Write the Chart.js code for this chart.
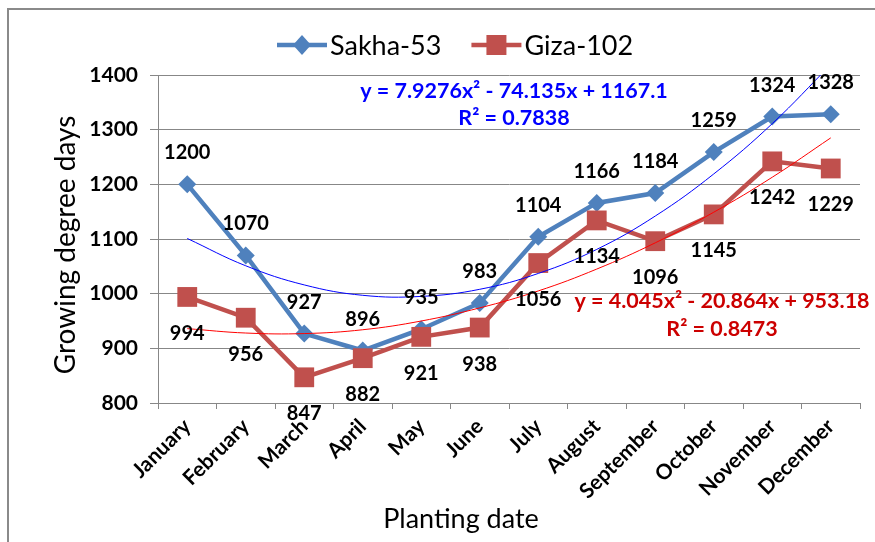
<!DOCTYPE html>
<html><head><meta charset="utf-8">
<script src="https://cdn.jsdelivr.net/npm/chart.js@4"></script>
<style>html,body{margin:0;padding:0;background:#fff;}canvas{display:block;}</style>
</head><body>
<canvas id="c" width="875" height="542"></canvas>
<script>
// ---- data ----
const months = ['January','February','March','April','May','June','July','August','September','October','November','December'];
const sakha53 = [1200,1070,927,896,935,983,1104,1166,1184,1259,1324,1328];
const giza102 = [994,956,847,882,921,938,1056,1134,1096,1145,1242,1229];
// polynomial trendline values as shown (from the printed equations)
const sakhaTrend = [1101,1051,1016,997,995,1008,1037,1081,1142,1219,1311,1419];
const gizaTrend = [936,928,927,934,950,974,1005,1045,1093,1149,1213,1285];
const yTicks = [800,900,1000,1100,1200,1300,1400];
const seriesNames = ['Sakha-53','Giza-102'];
const sakhaEquation = ['y = 7.9276x\u00B2 - 74.135x + 1167.1','R\u00B2 = 0.7838'];
const gizaEquation = ['y = 4.045x\u00B2 - 20.864x + 953.18','R\u00B2 = 0.8473'];
const xTitle = 'Planting date';
const yTitle = 'Growing degree days';

// ---- styles ----
const FONT = 'Lato';
const BLUE = '#4F81BD', RED = '#C0504D';
const GRID = '#878787';

const decorPlugin = {
  id: 'decor',
  afterDraw(chart) {
    const ctx = chart.ctx;
    ctx.save();
    // outer frame
    ctx.strokeStyle = '#8a8a8a'; ctx.lineWidth = 2;
    ctx.beginPath(); ctx.moveTo(8, 542); ctx.lineTo(8, 9); ctx.lineTo(875, 9); ctx.stroke();

    // data labels
    ctx.fillStyle = '#000'; ctx.textAlign = 'center'; ctx.textBaseline = 'alphabetic';
    ctx.font = 'bold 20px ' + FONT;
    const offs = [-25, 43];
    [0,1].forEach(di => {
      const meta = chart.getDatasetMeta(di);
      const vals = chart.data.datasets[di].data;
      meta.data.forEach((pt, i) => { ctx.fillText(String(vals[i]), pt.x, pt.y + offs[di]); });
    });

    // equations
    ctx.font = 'bold 21.5px ' + FONT;
    ctx.fillStyle = '#0000FF';
    ctx.fillText(sakhaEquation[0], 514, 98);
    ctx.fillText(sakhaEquation[1], 514, 125);
    ctx.fillStyle = '#CC0000';
    ctx.fillText(gizaEquation[0], 722, 308);
    ctx.fillText(gizaEquation[1], 722, 336);

    // axis titles
    ctx.fillStyle = '#000';
    ctx.font = '27px ' + FONT;
    ctx.fillText(xTitle, 461, 528);
    ctx.save();
    ctx.translate(75, 245); ctx.rotate(-Math.PI / 2);
    ctx.font = '28px ' + FONT;
    ctx.fillText(yTitle, 0, 0);
    ctx.restore();

    // legend
    ctx.font = '27px ' + FONT;
    ctx.textAlign = 'left';
    const lineW = 50, gapT = 3, gapItem = 30;
    const items = [
      {text: seriesNames[0], color: BLUE, shape: 'diamond'},
      {text: seriesNames[1], color: RED, shape: 'square'}
    ];
    items.forEach(it => { it.w = ctx.measureText(it.text).width; });
    let x = 277; const ly = 45;
    items.forEach(it => {
      ctx.strokeStyle = it.color; ctx.lineWidth = 4.5;
      ctx.beginPath(); ctx.moveTo(x, ly); ctx.lineTo(x + lineW, ly); ctx.stroke();
      ctx.fillStyle = it.color;
      const cx = x + lineW / 2;
      ctx.beginPath();
      if (it.shape === 'diamond') { ctx.moveTo(cx - 9, ly); ctx.lineTo(cx, ly - 10); ctx.lineTo(cx + 9, ly); ctx.lineTo(cx, ly + 10); }
      else { ctx.rect(cx - 10, ly - 10, 20, 20); }
      ctx.closePath(); ctx.fill();
      ctx.fillStyle = '#000';
      ctx.fillText(it.text, x + lineW + gapT, ly + 9.5);
      x += lineW + gapT + it.w + gapItem;
    });
    ctx.restore();
  }
};

new Chart(document.getElementById('c'), {
  type: 'line',
  data: {
    labels: months,
    datasets: [
      {label: seriesNames[0], data: sakha53, borderColor: BLUE, backgroundColor: BLUE, borderWidth: 4.5,
       pointStyle: 'rectRot', pointRadius: 9, pointBorderWidth: 0, pointBackgroundColor: BLUE, tension: 0, order: 2},
      {label: seriesNames[1], data: giza102, borderColor: RED, backgroundColor: RED, borderWidth: 4.5,
       pointStyle: 'rect', pointRadius: 14, pointBorderWidth: 0, pointBackgroundColor: RED, tension: 0, order: 1},
      {label: 'trend1', data: sakhaTrend, borderColor: '#0000FF', borderWidth: 1, pointRadius: 0, tension: 0.4, order: 0},
      {label: 'trend2', data: gizaTrend, borderColor: '#FF0000', borderWidth: 1, pointRadius: 0, tension: 0.4, order: 0}
    ]
  },
  options: {
    responsive: false, animation: false, devicePixelRatio: 1,
    layout: {padding: {top: 75, right: 15, bottom: 0, left: 0}},
    plugins: {legend: {display: false}, tooltip: {enabled: false}},
    scales: {
      x: {
        offset: true,
        grid: {display: true, drawOnChartArea: false, drawTicks: true, tickLength: 6, offset: true, color: GRID},
        border: {display: true, color: GRID, width: 1},
        ticks: {autoSkip: false, maxRotation: 45, minRotation: 45, padding: 5, color: '#000', font: {family: FONT, size: 21, weight: 'bold'}},
        afterFit(s) { s.height = 139; }
      },
      y: {
        min: 800, max: 1400,
        afterBuildTicks(s) { s.ticks = yTicks.map(v => ({value: v})); },
        grid: {color: GRID, tickLength: 8, drawTicks: true},
        border: {display: true, color: GRID, width: 1},
        ticks: {padding: 12, color: '#000', font: {family: FONT, size: 21, weight: 'bold'}, callback: v => String(v)},
        afterFit(s) { s.width = 158; }
      }
    }
  },
  plugins: [decorPlugin]
});
</script>
</body></html>
